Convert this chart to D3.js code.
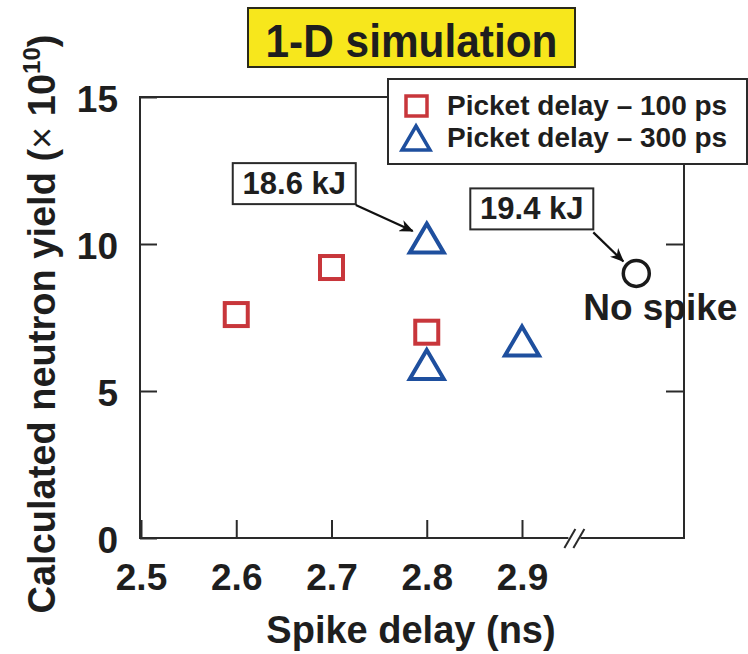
<!DOCTYPE html>
<html>
<head>
<meta charset="utf-8">
<script src="https://cdn.jsdelivr.net/npm/d3@7"></script>
<style>
  body { margin: 0; background: #fff; }
  svg { display: block; }
  text { font-family: "Liberation Sans", Arial, Helvetica, sans-serif; font-weight: bold; fill: #1e1e1e; }
</style>
</head>
<body>
<svg id="chart" width="748" height="654"></svg>
<script>
// ---- data ----
const xTicks = [2.5, 2.6, 2.7, 2.8, 2.9];
const yTicks = [0, 5, 10, 15];
const rightTicks = [5, 10];
const seriesNames = ["Picket delay – 100 ps", "Picket delay – 300 ps"];
const picket100 = [ {x: 2.6, y: 7.6}, {x: 2.7, y: 9.2}, {x: 2.8, y: 7.0} ];
const picket300 = [ {x: 2.8, y: 10.2}, {x: 2.8, y: 5.9}, {x: 2.9, y: 6.7} ];
const noSpike = {x: 3.02, y: 9.0, label: "No spike"};   // placed past the axis break
const axisBreak = 2.955;
const energyNotes = ["18.6 kJ", "19.4 kJ"];
const titleText = "1-D simulation";
const xTitle = "Spike delay (ns)";

// ---- layout ----
const svg = d3.select("#chart");
const L = 140, R = 684, T = 97, B = 538;
const x = d3.scaleLinear().domain([2.5, 2.9]).range([141, 522]);
const y = d3.scaleLinear().domain([0, 15]).range([B, T]);
const ink = "#2a2a2a";
const red = "#c8363b", blue = "#1e4f9e";

// arrowhead
svg.append("defs").append("marker")
  .attr("id", "head").attr("viewBox", "0 0 14 12")
  .attr("refX", 13).attr("refY", 6)
  .attr("markerWidth", 14).attr("markerHeight", 12)
  .attr("markerUnits", "userSpaceOnUse").attr("orient", "auto")
  .append("path").attr("d", "M0,0 L14,6 L0,12 L4,6 Z").attr("fill", "#111");

// title
const title = svg.append("g");
title.append("rect").attr("x", 248).attr("y", 8).attr("width", 327).attr("height", 59)
  .attr("fill", "#f7e71c").attr("stroke", "#2a2a1a").attr("stroke-width", 2);
title.append("text").attr("x", 411.5).attr("y", 57).attr("text-anchor", "middle")
  .attr("font-size", 47).attr("textLength", 292).attr("lengthAdjust", "spacingAndGlyphs")
  .text(titleText);

// legend box
const lg = svg.append("g");
lg.append("rect").attr("x", 388).attr("y", 79).attr("width", 359).attr("height", 85)
  .attr("fill", "#fff").attr("stroke", ink).attr("stroke-width", 2);

// frame lines
const frame = svg.append("g").attr("stroke", ink).attr("stroke-width", 2).attr("fill", "none");
frame.append("line").attr("x1", L).attr("x2", L).attr("y1", T - 1).attr("y2", B + 1);
frame.append("line").attr("x1", L - 1).attr("x2", 388).attr("y1", T).attr("y2", T);
frame.append("line").attr("x1", R).attr("x2", R).attr("y1", 164).attr("y2", B + 1);
const bx = x(axisBreak);
frame.append("line").attr("x1", L - 1).attr("x2", bx - 6).attr("y1", B).attr("y2", B);
frame.append("line").attr("x1", bx + 6).attr("x2", R + 1).attr("y1", B).attr("y2", B);
[-5, 4].forEach(o => {
  frame.append("line").attr("x1", bx + o - 5).attr("y1", B + 10)
    .attr("x2", bx + o + 6).attr("y2", B - 9);
});

// axes
function styleAxis(g, size) {
  g.select(".domain").remove();
  g.selectAll(".tick line").attr("stroke", ink).attr("stroke-width", 2);
  g.selectAll(".tick text").attr("fill", "#1e1e1e").attr("font-size", size)
    .attr("font-family", null).style("font-weight", "bold");
  g.attr("font-family", null).attr("font-size", null);
}
svg.append("g").attr("transform", `translate(0,${B})`)
  .call(d3.axisBottom(x).tickValues(xTicks).tickSizeInner(-18).tickSizeOuter(0)
    .tickPadding(26).tickFormat(d3.format(".1f")))
  .call(g => styleAxis(g, 37));
svg.append("g").attr("transform", `translate(${L},0)`)
  .call(d3.axisLeft(y).tickValues(yTicks).tickSizeInner(-17).tickSizeOuter(0)
    .tickPadding(22).tickFormat(d3.format("d")))
  .call(g => styleAxis(g, 37))
  .call(g => g.selectAll(".tick text").attr("dy", "0.40em"));
svg.append("g").attr("transform", `translate(${R},0)`)
  .call(d3.axisRight(y).tickValues(rightTicks).tickSizeInner(-18).tickSizeOuter(0).tickFormat(""))
  .call(g => styleAxis(g, 10));

// axis titles
svg.append("text").attr("x", 411).attr("y", 643).attr("text-anchor", "middle")
  .attr("font-size", 38).text(xTitle);
const yl = svg.append("text").attr("transform", "translate(55,324) rotate(-90)")
  .attr("text-anchor", "middle").attr("font-size", 38);
yl.append("tspan").text("Calculated neutron yield (");
yl.append("tspan").style("font-weight", "normal").text("×");
yl.append("tspan").text(" 10");
yl.append("tspan").attr("font-size", 24).attr("dy", -15).text("10");
yl.append("tspan").attr("dy", 15).text(")");

// markers
const sq = 23, triW = 34, triH = 29;
const triPath = (cx, cy) => `M${cx},${cy - triH / 2} L${cx + triW / 2},${cy + triH / 2} L${cx - triW / 2},${cy + triH / 2} Z`;

svg.append("g").selectAll("rect").data(picket100).join("rect")
  .attr("x", d => x(d.x) - sq / 2).attr("y", d => y(d.y) - sq / 2)
  .attr("width", sq).attr("height", sq)
  .attr("fill", "none").attr("stroke", red).attr("stroke-width", 4);

svg.append("g").selectAll("path").data(picket300).join("path")
  .attr("d", d => triPath(x(d.x), y(d.y)))
  .attr("fill", "none").attr("stroke", blue).attr("stroke-width", 4).attr("stroke-linejoin", "miter");

svg.append("circle").attr("cx", x(noSpike.x)).attr("cy", y(noSpike.y)).attr("r", 13)
  .attr("fill", "none").attr("stroke", "#1a1a1a").attr("stroke-width", 3.5);
svg.append("text").attr("x", x(noSpike.x) + 24).attr("y", y(noSpike.y) + 47)
  .attr("text-anchor", "middle").attr("font-size", 37).text(noSpike.label);

// energy callouts
function callout(pt, label, box, from, to) {
  const px = x(pt.x), py = y(pt.y);
  const g = svg.append("g");
  g.append("rect").attr("x", px + box[0]).attr("y", py + box[1]).attr("width", 123).attr("height", 41)
    .attr("fill", "#fff").attr("stroke", ink).attr("stroke-width", 2);
  g.append("text").attr("x", px + box[0] + 61.5).attr("y", py + box[1] + 31)
    .attr("text-anchor", "middle").attr("font-size", 31).text(label);
  g.append("line").attr("x1", px + from[0]).attr("y1", py + from[1])
    .attr("x2", px + to[0]).attr("y2", py + to[1])
    .attr("stroke", "#111").attr("stroke-width", 2.2).attr("marker-end", "url(#head)");
}
callout(picket300[0], energyNotes[0], [-194, -75], [-71, -33], [-14, -7]);
callout(noSpike, energyNotes[1], [-166, -85], [-43, -41], [-13, -12]);

// legend entries
lg.append("rect").attr("x", 406).attr("y", 96).attr("width", 21).attr("height", 20)
  .attr("fill", "none").attr("stroke", red).attr("stroke-width", 3.5);
lg.append("path").attr("d", "M416,126 L430,150 L402,150 Z")
  .attr("fill", "none").attr("stroke", blue).attr("stroke-width", 3.5);
lg.selectAll("text.lab").data(seriesNames).join("text").attr("class", "lab")
  .attr("x", 447).attr("y", (d, i) => 115 + i * 32)
  .attr("font-size", 28).attr("fill", "#262626").text(d => d);
</script>
</body>
</html>
